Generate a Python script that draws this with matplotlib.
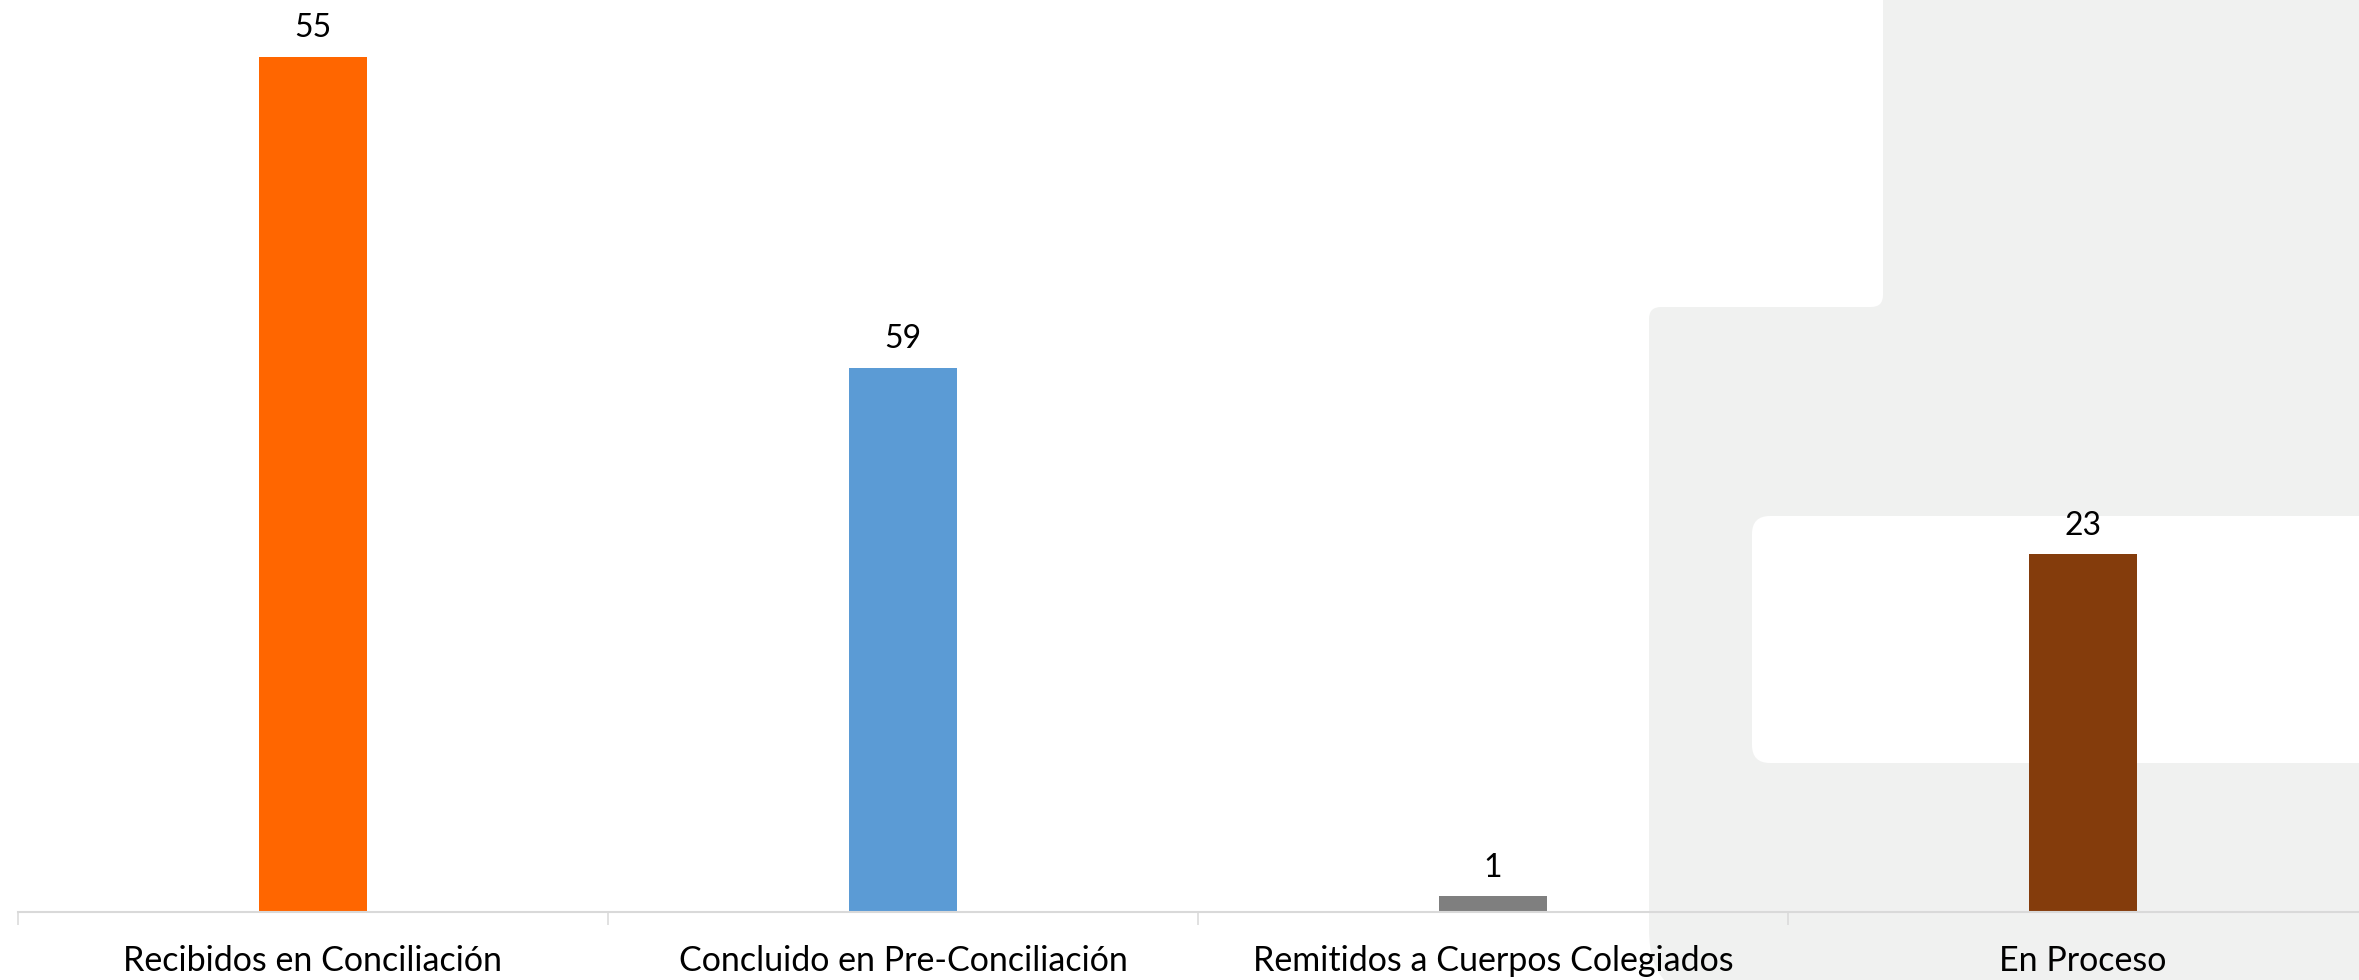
import matplotlib
matplotlib.use("Agg")
import matplotlib.pyplot as plt
from matplotlib.patches import FancyBboxPatch, Rectangle

# data (bar heights), labels as printed on the chart
categories = ["Recibidos en Conciliación", "Concluido en Pre-Conciliación",
              "Remitidos a Cuerpos Colegiados", "En Proceso"]
values = [55, 35, 1, 23]
value_labels = ["55", "59", "1", "23"]
colors = ["#FF6600", "#5B9BD5", "#7F7F7F", "#843C0C"]

plt.rcParams['font.family'] = ['Lato', 'DejaVu Sans']

W, H = 2359, 980
fig = plt.figure(figsize=(W / 100, H / 100), dpi=100)

# background decoration, drawn in pixel units (y down)
bg = fig.add_axes([0, 0, 1, 1], zorder=0)
bg.set_xlim(0, W)
bg.set_ylim(H, 0)
bg.axis('off')
grey = "#F0F1F0"

def rbox(x0, y0, x1, y1, r, color, z):
    p = FancyBboxPatch((x0 + r, y0 + r), (x1 - x0) - 2 * r, (y1 - y0) - 2 * r,
                       boxstyle=f"round,pad={r},rounding_size={r}",
                       facecolor=color, edgecolor='none', zorder=z)
    bg.add_patch(p)

rbox(1649, 307, 2700, 700, 12, grey, 1)
rbox(1649, 500, 2700, 1000, 70, grey, 1)
rbox(1883, -200, 2700, 420, 12, grey, 1)
bg.add_patch(Rectangle((1840, 270), 43, 37, facecolor=grey, edgecolor='none', zorder=1))
rbox(-500, -500, 1883, 307, 12, "white", 2)
rbox(1752, 516, 2700, 763, 18, "white", 3)

# main chart
ax_left = 18 / W
ax_bottom = (H - 912) / H
ax_top = (H - 12) / H
ax = fig.add_axes([ax_left, ax_bottom, 1 - ax_left, ax_top - ax_bottom], zorder=1)
ax.patch.set_alpha(0)

x = list(range(len(categories)))
bars = ax.bar(x, values, width=0.183, color=colors, zorder=2)

for b, lab in zip(bars, value_labels):
    ax.annotate(lab, (b.get_x() + b.get_width() / 2, b.get_height()),
                xytext=(0, 10), textcoords='offset points',
                ha='center', va='bottom', fontsize=23, color='black',
                annotation_clip=False)

for s in ['top', 'left', 'right']:
    ax.spines[s].set_visible(False)
ax.spines['bottom'].set_color('#D9D9D9')
ax.spines['bottom'].set_linewidth(1.5)
ax.set_yticks([])

ax.set_xticks([i - 0.5 for i in range(len(categories) + 1)])
ax.set_xticklabels([])
ax.tick_params(axis='x', which='major', length=9, width=1.1, color='#D9D9D9')
ax.set_xticks(x, minor=True)
ax.set_xticklabels(categories, minor=True, fontsize=24.5)
ax.tick_params(axis='x', which='minor', length=0, pad=24)

# limits last, so the tick setters do not widen them
px_per_cat = 590
ax.set_xlim(-0.5, -0.5 + (W - 18) / px_per_cat)
px_per_unit = 855 / 55
ax.set_ylim(0, 900 / px_per_unit)

fig.savefig("out.png", dpi=100)
